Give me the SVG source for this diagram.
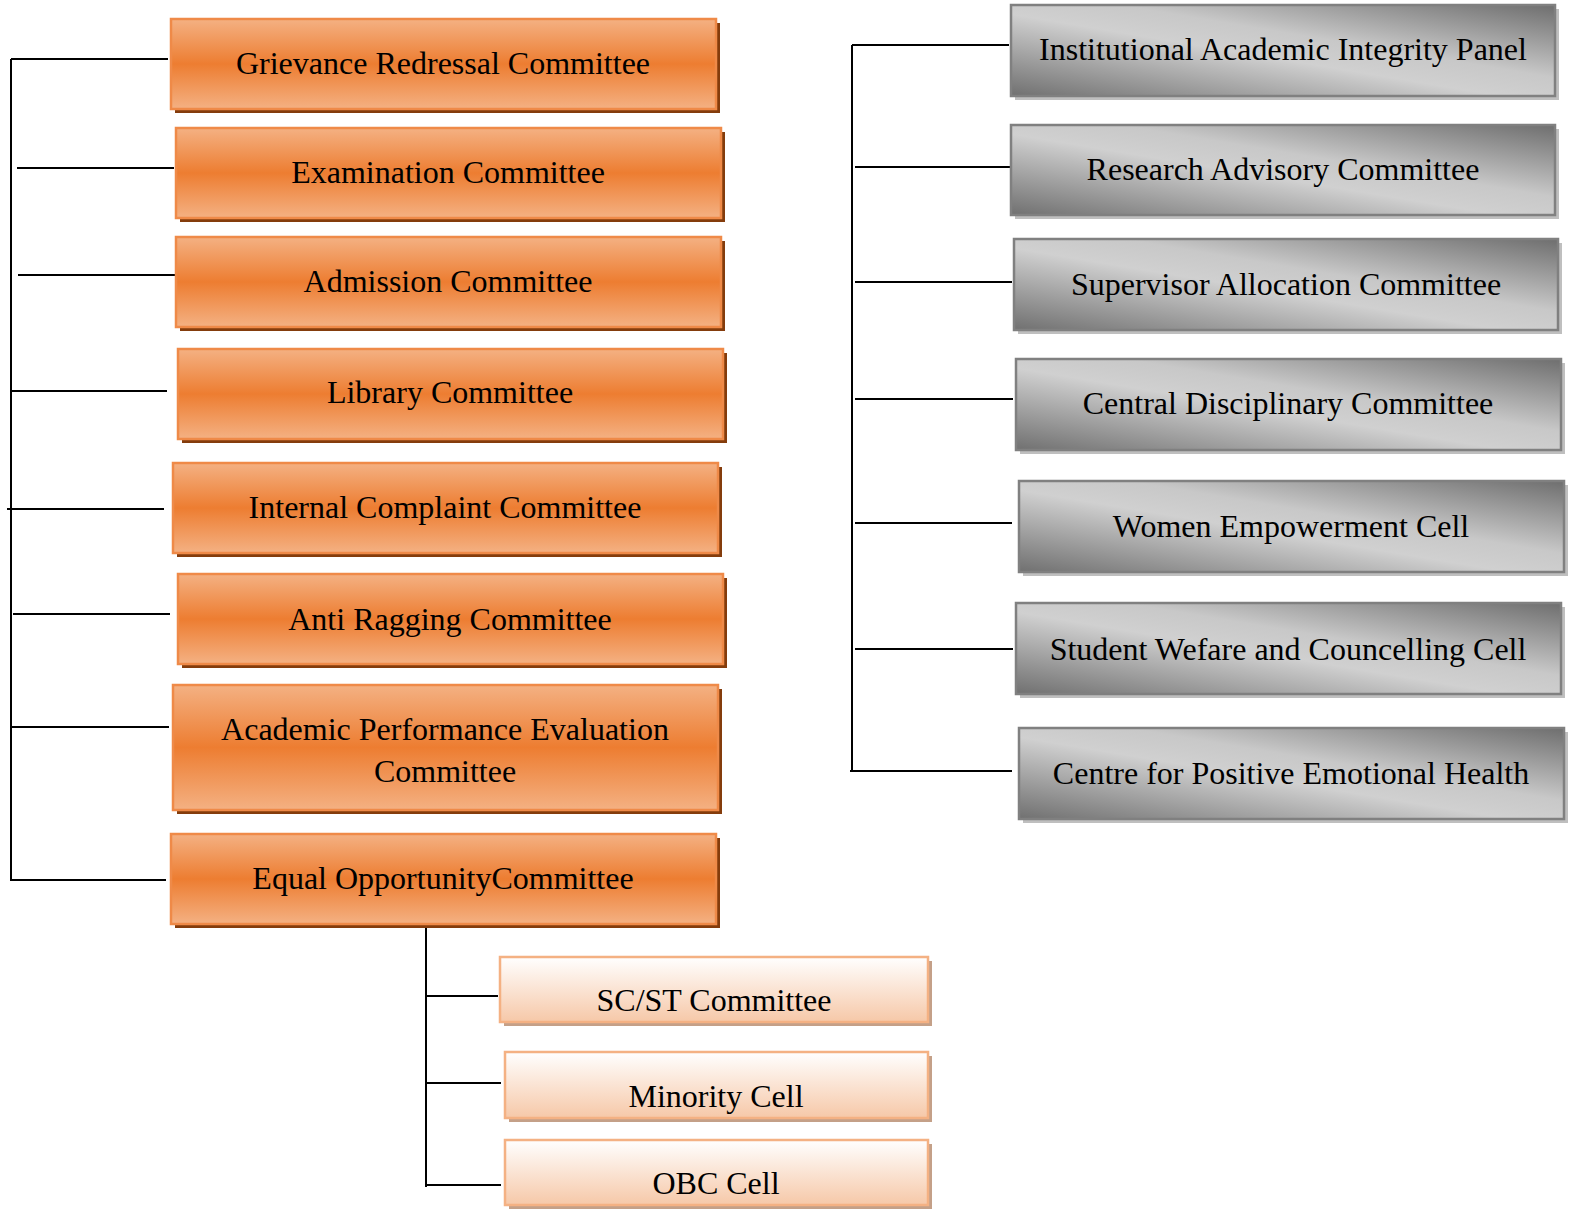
<svg xmlns="http://www.w3.org/2000/svg" width="1573" height="1213" viewBox="0 0 1573 1213">
<defs>
<linearGradient id="gOr" x1="0" y1="0" x2="0" y2="1">
<stop offset="0" stop-color="#F4B183"/>
<stop offset="0.5" stop-color="#ED7D31"/>
<stop offset="1" stop-color="#F4B183"/>
</linearGradient>
<linearGradient id="gGr" x1="0" y1="1" x2="1" y2="0">
<stop offset="0" stop-color="#707070"/>
<stop offset="0.45" stop-color="#d0d0d0"/>
<stop offset="0.6" stop-color="#c8c8c8"/>
<stop offset="1" stop-color="#6e6e6e"/>
</linearGradient>
<linearGradient id="gPe" x1="0" y1="0" x2="0" y2="1">
<stop offset="0" stop-color="#FFFFFF"/>
<stop offset="1" stop-color="#F6C8A8"/>
</linearGradient>
</defs>
<style>
.or{fill:url(#gOr);stroke:#EF8A48;stroke-width:2.5}
.orS{fill:#843C0C}
.gr{fill:url(#gGr);stroke:#808080;stroke-width:2.5}
.grS{fill:#BFBFBF}
.pe{fill:url(#gPe);stroke:#F4B183;stroke-width:2.5}
.peS{fill:#C4A088}
text{font-family:"Liberation Serif","Times New Roman",serif;font-size:32px;fill:#000;text-anchor:middle;dominant-baseline:central}
.ln{stroke:#000;stroke-width:2;fill:none}
</style>
<rect width="1573" height="1213" fill="#fff"/>
<g id="connectors">
<path class="ln" d="M11 59 V880"/>
<path class="ln" d="M11 59 H168 M17 168 H174 M18 275 H175 M11 391 H167 M7 509 H164 M13 614 H170 M11 727 H169 M10 880 H166"/>
<path class="ln" d="M852 45 V771"/>
<path class="ln" d="M852 45 H1009 M855 167 H1010 M855 282 H1012 M855 399 H1013 M855 523 H1012 M855 649 H1013 M850 771 H1012"/>
<path class="ln" d="M426 924 V1187"/>
<path class="ln" d="M426 996 H498 M426 1083 H501 M426 1185 H501"/>
</g>
<g id="n-grievance"><rect class="orS" x="175" y="23" width="545" height="90"/><rect class="or" x="171" y="19" width="545" height="90"/><text x="443" y="63">Grievance Redressal Committee</text></g>
<g id="n-examination"><rect class="orS" x="180" y="132" width="545" height="90"/><rect class="or" x="176" y="128" width="545" height="90"/><text x="448" y="172">Examination Committee</text></g>
<g id="n-admission"><rect class="orS" x="180" y="241" width="545" height="90"/><rect class="or" x="176" y="237" width="545" height="90"/><text x="448" y="281">Admission Committee</text></g>
<g id="n-library"><rect class="orS" x="182" y="353" width="545" height="90"/><rect class="or" x="178" y="349" width="545" height="90"/><text x="450" y="392">Library Committee</text></g>
<g id="n-icc"><rect class="orS" x="177" y="467" width="545" height="90"/><rect class="or" x="173" y="463" width="545" height="90"/><text x="445" y="507">Internal Complaint Committee</text></g>
<g id="n-antiragging"><rect class="orS" x="182" y="578" width="545" height="90"/><rect class="or" x="178" y="574" width="545" height="90"/><text x="450" y="619">Anti Ragging Committee</text></g>
<g id="n-apec"><rect class="orS" x="177" y="689" width="545" height="125"/><rect class="or" x="173" y="685" width="545" height="125"/><text x="445" y="729">Academic Performance Evaluation</text><text x="445" y="771">Committee</text></g>
<g id="n-equal"><rect class="orS" x="175" y="838" width="545" height="90"/><rect class="or" x="171" y="834" width="545" height="90"/><text x="443" y="878">Equal OpportunityCommittee</text></g>
<g id="n-iaip"><rect class="grS" x="1015" y="9" width="544" height="91"/><rect class="gr" x="1011" y="5" width="544" height="91"/><text x="1283" y="49">Institutional Academic Integrity Panel</text></g>
<g id="n-rac"><rect class="grS" x="1015" y="129" width="544" height="90"/><rect class="gr" x="1011" y="125" width="544" height="90"/><text x="1283" y="169">Research Advisory Committee</text></g>
<g id="n-sac"><rect class="grS" x="1018" y="243" width="544" height="91"/><rect class="gr" x="1014" y="239" width="544" height="91"/><text x="1286" y="284">Supervisor Allocation Committee</text></g>
<g id="n-cdc"><rect class="grS" x="1020" y="363" width="545" height="91"/><rect class="gr" x="1016" y="359" width="545" height="91"/><text x="1288" y="403">Central Disciplinary Committee</text></g>
<g id="n-wec"><rect class="grS" x="1023" y="485" width="545" height="91"/><rect class="gr" x="1019" y="481" width="545" height="91"/><text x="1291" y="526">Women Empowerment Cell</text></g>
<g id="n-swcc"><rect class="grS" x="1020" y="607" width="545" height="91"/><rect class="gr" x="1016" y="603" width="545" height="91"/><text x="1288" y="649">Student Wefare and Councelling Cell</text></g>
<g id="n-cpeh"><rect class="grS" x="1023" y="732" width="545" height="91"/><rect class="gr" x="1019" y="728" width="545" height="91"/><text x="1291" y="773">Centre for Positive Emotional Health</text></g>
<g id="n-scst"><rect class="peS" x="504" y="961" width="428" height="65"/><rect class="pe" x="500" y="957" width="428" height="65"/><text x="714" y="1000">SC/ST Committee</text></g>
<g id="n-minority"><rect class="peS" x="509" y="1056" width="423" height="66"/><rect class="pe" x="505" y="1052" width="423" height="66"/><text x="716" y="1096">Minority Cell</text></g>
<g id="n-obc"><rect class="peS" x="509" y="1144" width="423" height="65"/><rect class="pe" x="505" y="1140" width="423" height="65"/><text x="716" y="1183">OBC Cell</text></g>
</svg>
